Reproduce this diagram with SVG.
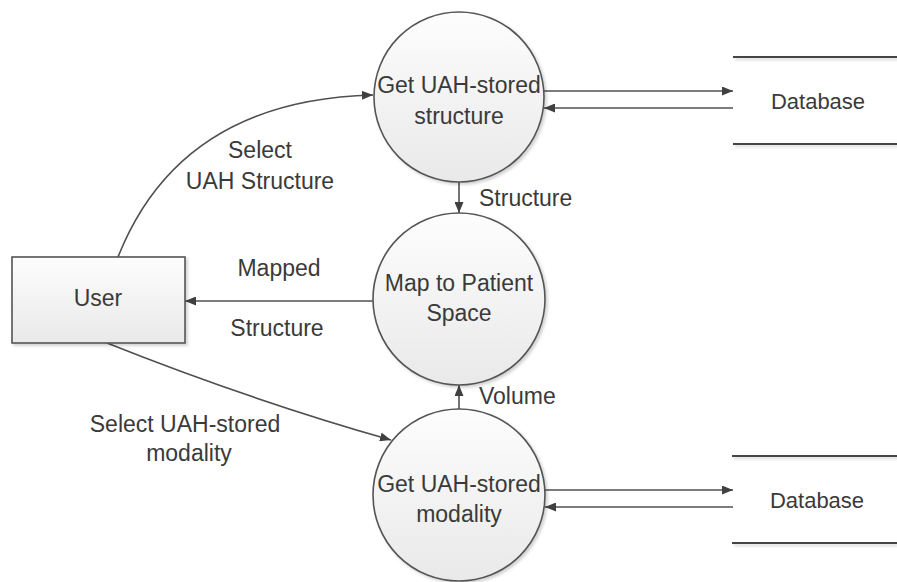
<svg xmlns="http://www.w3.org/2000/svg" width="897" height="582" viewBox="0 0 897 582">
  <style>
    .txt { font-family: "Liberation Sans", Arial, sans-serif; font-size: 23px; fill: #3a3a3a; }
    .db { font-size: 22px; }
    .mid { text-anchor: middle; }
    .shape { stroke: #555555; stroke-width: 1.6; }
    .conn { fill: none; stroke: #505050; stroke-width: 1.6; }
    .store { stroke: #444444; stroke-width: 2; fill: none; }
  </style>
  <defs>
    <linearGradient id="fillGrad" x1="0" y1="0" x2="0" y2="1">
      <stop offset="0" stop-color="#fdfdfd"/>
      <stop offset="1" stop-color="#e9e9e9"/>
    </linearGradient>
    <filter id="shadow" x="-10%" y="-10%" width="125%" height="125%">
      <feDropShadow dx="2" dy="2" stdDeviation="1.5" flood-color="#000000" flood-opacity="0.18"/>
    </filter>
    <marker id="arrow" markerUnits="userSpaceOnUse" markerWidth="11" markerHeight="9" refX="11" refY="4.5" orient="auto">
      <path d="M0,0 L11,4.5 L0,9 z" fill="#404040"/>
    </marker>
  </defs>

  <g id="connectors">
    <path class="conn" d="M118,257 Q180,100 373,95" marker-end="url(#arrow)"/>
    <path class="conn" d="M107,343 Q250,400 391,440" marker-end="url(#arrow)"/>
    <path class="conn" d="M459,182 L459,213" marker-end="url(#arrow)"/>
    <path class="conn" d="M459,409 L459,385" marker-end="url(#arrow)"/>
    <path class="conn" d="M373,301 L185,301" marker-end="url(#arrow)"/>
    <path class="conn" d="M544,91 L733,91" marker-end="url(#arrow)"/>
    <path class="conn" d="M733,108 L544,108" marker-end="url(#arrow)"/>
    <path class="conn" d="M545,490 L733,490" marker-end="url(#arrow)"/>
    <path class="conn" d="M733,507 L545,507" marker-end="url(#arrow)"/>
    <text class="txt mid" x="260" y="158">Select</text>
    <text class="txt mid" x="260" y="189">UAH Structure</text>
    <text class="txt" x="479" y="206">Structure</text>
    <text class="txt mid" x="279" y="276">Mapped</text>
    <text class="txt mid" x="277" y="336">Structure</text>
    <text class="txt" x="479" y="404">Volume</text>
    <text class="txt mid" x="185" y="432">Select UAH-stored</text>
    <text class="txt mid" x="189" y="461">modality</text>
  </g>

  <g id="user">
    <rect class="shape" x="12" y="257" width="173" height="86" fill="url(#fillGrad)" filter="url(#shadow)"/>
    <text class="txt mid" x="98" y="306">User</text>
  </g>

  <g id="get-structure">
    <circle class="shape" cx="459" cy="97" r="85" fill="url(#fillGrad)" filter="url(#shadow)"/>
    <text class="txt mid" x="459" y="93">Get UAH-stored</text>
    <text class="txt mid" x="459" y="124">structure</text>
  </g>

  <g id="map-patient">
    <circle class="shape" cx="459" cy="299" r="86" fill="url(#fillGrad)" filter="url(#shadow)"/>
    <text class="txt mid" x="459" y="291">Map to Patient</text>
    <text class="txt mid" x="459" y="321">Space</text>
  </g>

  <g id="get-modality">
    <circle class="shape" cx="459" cy="495" r="86" fill="url(#fillGrad)" filter="url(#shadow)"/>
    <text class="txt mid" x="459" y="492">Get UAH-stored</text>
    <text class="txt mid" x="459" y="522">modality</text>
  </g>

  <g id="database-top">
    <path class="store" d="M733,57 H897 M733,144 H897" filter="url(#shadow)"/>
    <text class="txt db mid" x="818" y="109">Database</text>
  </g>

  <g id="database-bottom">
    <path class="store" d="M732,456 H897 M732,543 H897" filter="url(#shadow)"/>
    <text class="txt db mid" x="817" y="508">Database</text>
  </g>
</svg>
